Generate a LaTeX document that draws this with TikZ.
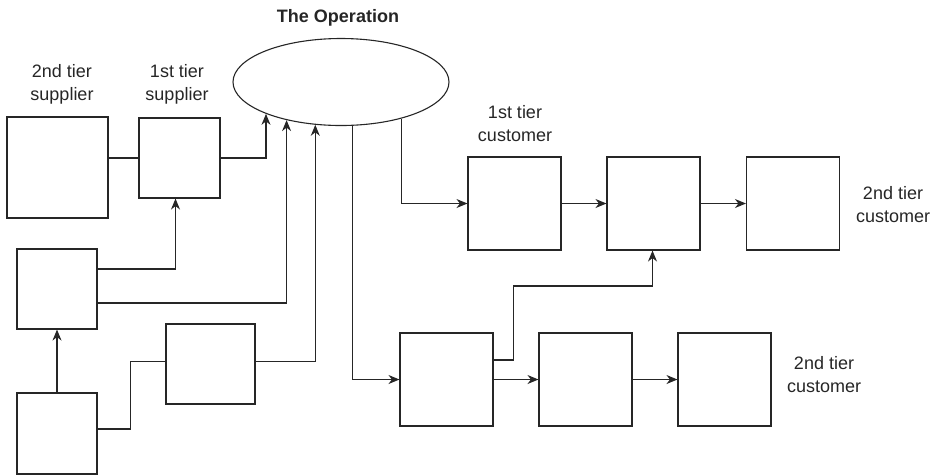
\documentclass[tikz,border=0pt]{standalone}
\usepackage{fontspec}
\setmainfont{Liberation Sans}
\usetikzlibrary{arrows.meta,shapes.geometric}
\begin{document}
\begin{tikzpicture}[x=1pt,y=-1pt,
  ink/.style={draw=black!85,line width=1.1pt},
  unit/.style={ink,rectangle,inner sep=0pt,minimum width=#1,minimum height=#1},
  unitwh/.style 2 args={ink,rectangle,inner sep=0pt,minimum width=#1,minimum height=#2},
  lbl/.style={font=\fontsize{18}{23}\selectfont,align=center,inner sep=0pt,text=black!85},
  flow/.style={ink,-{Stealth[length=11pt,width=9pt,inset=3.5pt]}},
  link/.style={ink}]
\useasboundingbox (0,0) rectangle (939,475);

% the focal operation
\node[ink,ellipse,inner sep=0pt,minimum width=216pt,minimum height=87pt] (op) at (341,82) {};
\node[lbl,font=\fontsize{18}{23}\selectfont\bfseries] (optitle) at (338,18) {The Operation};

% supply side
\node[unitwh={101pt}{101pt}] (A) at (57.5,167.5) {};
\node[unitwh={81pt}{80pt}] (B) at (179.5,158) {};
\node[unitwh={80pt}{80pt}] (C) at (57,289) {};
\node[unitwh={80pt}{81pt}] (D) at (57,433.5) {};
\node[unitwh={89pt}{80pt}] (E) at (210.5,364) {};

% demand side
\node[unit=93pt] (F) at (514.5,203.5) {};
\node[unit=93pt] (G) at (653.5,203.5) {};
\node[unit=93pt] (H) at (793,203.5) {};
\node[unit=93pt] (I) at (446.5,379.5) {};
\node[unit=93pt] (J) at (585.5,379.5) {};
\node[unit=93pt] (K) at (724.5,379.5) {};

% labels
\node[lbl] (l2s) at (62,84) {2nd tier\\supplier};
\node[lbl] (l1s) at (177,84) {1st tier\\supplier};
\node[lbl] (l1c) at (515,124) {1st tier\\customer};
\node[lbl] (l2cu) at (893,205) {2nd tier\\customer};
\node[lbl] (l2cl) at (824,375) {2nd tier\\customer};

% supply network connectors
\draw[link] (B.west -| A.east) -- (B.west);
\draw[flow] (B.east) -| (op.-157.75);
\draw[flow] ([yshift=20pt]C.east) -| ([xshift=-4pt]B.south);
\draw[flow] ([yshift=-14pt]C.east) -| (op.-145.1);
\draw[flow] (D.north) -- (C.south);
\draw[link] ([yshift=4.5pt]D.east) -- ++(33,0) |- ([yshift=2.5pt]E.west);
\draw[flow] ([yshift=2.5pt]E.east) -| (op.-121.6);

% demand network connectors
\draw[flow] (op.-31.7) |- (F.west);
\draw[flow] (op.-75.74) |- (I.west);
\draw[flow] (F) -- (G);
\draw[flow] (G) -- (H);
\draw[flow] (I) -- (J);
\draw[flow] (J) -- (K);
\draw[flow] ([yshift=19.5pt]I.east) -- ++(20,0) -- ++(0,-74) -| ([xshift=-1pt]G.south);
\end{tikzpicture}
\end{document}
